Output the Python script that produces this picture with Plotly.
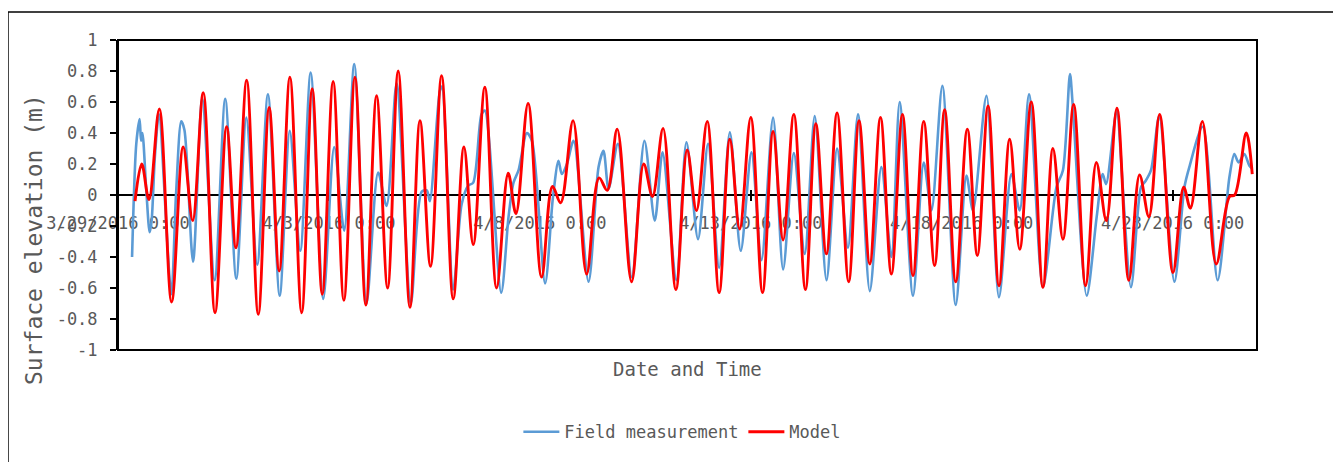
import pandas as pd
import plotly.graph_objects as go

START = pd.Timestamp("2016-03-29 00:00")

# Model (red) turning points: hours after 3/29/2016 0:00 and elevation (m)
model_hours = [9.7, 13.5, 17.6, 23.5, 30.5, 37.1, 42.5, 48.5, 55.2, 61.8, 67.1, 73.2,
               79.8, 86.0, 91.7, 97.8, 104.5, 110.5, 116.2, 122.4, 128.5, 134.8, 141.0,
               147.1, 153.4, 159.4, 166.1, 171.8, 177.8, 184.1, 190.7, 196.8, 202.1,
               208.7, 215.4, 222.0, 226.4, 233.3, 241.0, 247.2, 251.8, 258.9, 266.6,
               273.7, 278.3, 284.0, 292.2, 299.1, 304.1, 310.1, 317.4, 323.8, 329.1,
               335.2, 342.0, 348.1, 353.7, 360.0, 366.7, 372.7, 378.4, 384.5, 391.1,
               397.0, 403.0, 409.1, 415.7, 421.6, 427.7, 433.8, 440.0, 446.3, 452.3,
               458.4, 464.6, 470.3, 476.6, 483.2, 488.9, 495.0, 501.2, 507.3, 513.0,
               519.6, 526.2, 531.9, 537.6, 543.7, 550.5, 556.6, 562.3, 568.3, 575.1,
               581.2, 586.5, 592.6, 600.2, 606.3, 610.1, 616.9, 624.8, 632.4, 635.3,
               641.9, 645.3]
model_elev = [-0.04, 0.20, -0.03, 0.555, -0.69, 0.31, -0.165, 0.66, -0.76, 0.44, -0.34, 0.74,
              -0.77, 0.565, -0.49, 0.76, -0.76, 0.685, -0.64, 0.733, -0.68, 0.76, -0.71,
              0.64, -0.60, 0.80, -0.725, 0.48, -0.46, 0.77, -0.67, 0.31, -0.32,
              0.695, -0.60, 0.14, -0.12, 0.59, -0.53, 0.055, -0.05, 0.48, -0.51,
              0.11, 0.03, 0.425, -0.56, 0.20, -0.01, 0.43, -0.61, 0.29, -0.10,
              0.475, -0.63, 0.36, -0.22, 0.50, -0.63, 0.41, -0.29, 0.52, -0.61,
              0.46, -0.38, 0.53, -0.56, 0.48, -0.445, 0.50, -0.51, 0.52, -0.52,
              0.475, -0.455, 0.55, -0.56, 0.425, -0.39, 0.575, -0.585, 0.36, -0.35,
              0.60, -0.595, 0.30, -0.285, 0.585, -0.585, 0.21, -0.165, 0.56, -0.55,
              0.13, -0.14, 0.52, -0.50, 0.05, -0.085, 0.475, -0.445, -0.01, 0.0,
              0.40, 0.135]

# Field measurement (blue) readings: hours after 3/29/2016 0:00 and elevation (m)
field_hours = [8.0, 10.4, 12.3, 13.1, 13.9, 16.1, 18.0, 19.1, 21.0, 23.3, 30.3, 33.0,
               36.0, 37.8, 42.7, 47.9, 55.0, 61.0, 67.3, 73.0, 79.2, 85.3, 92.0, 97.7,
               103.7, 109.6, 116.8, 123.0, 128.7, 134.4, 141.4, 148.0, 152.8, 158.5,
               166.6, 172.7, 175.7, 177.4, 183.1, 184.3, 190.7, 195.5, 199.2, 202.1,
               206.8, 208.7, 218.0, 222.2, 225.0, 227.9, 232.6, 235.5, 243.0, 247.4,
               250.6, 252.5, 255.4, 259.2, 267.7, 273.4, 276.2, 279.1, 284.4, 292.3,
               299.5, 305.4, 309.8, 317.7, 323.4, 330.0, 335.7, 342.0, 348.1, 354.3,
               360.4, 366.1, 372.7, 378.4, 384.5, 390.7, 396.4, 403.1, 409.1, 415.3,
               421.0, 427.7, 434.3, 440.0, 444.7, 452.3, 458.4, 462.8, 469.0, 476.6,
               482.7, 486.4, 494.1, 501.2, 508.3, 513.0, 518.3, 526.2, 533.9, 537.6,
               541.6, 543.1, 551.1, 556.8, 560.2, 562.1, 566.8, 568.2, 576.3, 582.0,
               584.6, 587.7, 592.4, 601.0, 606.7, 609.5, 617.1, 625.6, 632.3, 635.1,
               637.5, 640.8, 643.6, 645.2]
field_elev = [-0.40, 0.33, 0.49, 0.35, 0.40, 0.03, -0.24, -0.17, 0.25, 0.52, -0.64, 0.0,
              0.475, 0.42, -0.43, 0.62, -0.55, 0.62, -0.54, 0.50, -0.45, 0.65, -0.65, 0.415,
              -0.36, 0.79, -0.67, 0.31, -0.23, 0.845, -0.70, 0.145, -0.07, 0.72,
              -0.70, 0.02, 0.03, -0.04, 0.67, 0.70, -0.61, -0.06, 0.06, 0.08,
              0.52, 0.545, -0.63, -0.14, 0.08, 0.16, 0.40, 0.35, -0.57, -0.02,
              0.22, 0.135, 0.20, 0.35, -0.56, 0.18, 0.285, 0.04, 0.33, -0.53,
              0.35, -0.165, 0.275, -0.55, 0.34, -0.285, 0.33, -0.47, 0.405, -0.36,
              0.275, -0.42, 0.50, -0.48, 0.27, -0.38, 0.51, -0.55, 0.30, -0.34,
              0.52, -0.62, 0.18, -0.40, 0.60, -0.65, 0.21, -0.10, 0.705, -0.71,
              0.125, -0.10, 0.64, -0.66, 0.135, -0.10, 0.65, -0.595, 0.05, 0.16,
              0.78, 0.59, -0.65, -0.14, 0.135, 0.07, 0.46, 0.55, -0.595, 0.05,
              0.09, 0.16, 0.51, -0.56, 0.05, 0.18, 0.44, -0.55, 0.115, 0.265,
              0.21, 0.265, 0.19, 0.17]

x_tick_dates = ["2016-03-29", "2016-04-03", "2016-04-08", "2016-04-13", "2016-04-18", "2016-04-23"]
x_tick_text = ["3/29/2016 0:00", "4/3/2016 0:00", "4/8/2016 0:00", "4/13/2016 0:00",
               "4/18/2016 0:00", "4/23/2016 0:00"]
y_tick_vals = [-1, -0.8, -0.6, -0.4, -0.2, 0, 0.2, 0.4, 0.6, 0.8, 1]
y_tick_text = ["-1", "-0.8", "-0.6", "-0.4", "-0.2", "0", "0.2", "0.4", "0.6", "0.8", "1"]

model_t = START + pd.to_timedelta(model_hours, unit="h")
field_t = START + pd.to_timedelta(field_hours, unit="h")

FONT = "DejaVu Sans Mono"
GREY = "#595959"

fig = go.Figure()
fig.add_trace(go.Scatter(x=field_t, y=field_elev, mode="lines", name="Field measurement",
                         line=dict(color="#5B9BD5", width=2.6, shape="spline", smoothing=0.8)))
fig.add_trace(go.Scatter(x=model_t, y=model_elev, mode="lines", name="Model",
                         line=dict(color="#FF0000", width=2.9, shape="spline", smoothing=1.0)))
# invisible trace to carry the inside half of the x ticks
fig.add_trace(go.Scatter(x=[START], y=[None], xaxis="x2", showlegend=False, hoverinfo="skip"))

x_range = ["2016-03-29 00:00", "2016-04-25 00:00"]

fig.update_layout(
    width=1333, height=454,
    margin=dict(l=110, r=84, t=32, b=112),
    paper_bgcolor="white", plot_bgcolor="white",
    font=dict(family=FONT, color=GREY, size=17),
    showlegend=True,
    legend=dict(orientation="h", x=0.4955, xanchor="center", y=-0.265, yanchor="middle",
                font=dict(family=FONT, size=17, color=GREY), itemwidth=36,
                bgcolor="rgba(0,0,0,0)"),
    xaxis=dict(
        range=x_range, anchor="free", position=0.5,
        tickmode="array", tickvals=x_tick_dates, ticktext=x_tick_text,
        ticks="outside", ticklen=5, tickwidth=1.5, tickcolor="black",
        showline=True, linecolor="black", linewidth=2,
        showgrid=False, zeroline=False, layer="below traces",
        tickfont=dict(family=FONT, size=17, color=GREY), ticklabelstandoff=8,
    ),
    xaxis2=dict(
        range=x_range, overlaying="x", anchor="free", position=0.5,
        tickmode="array", tickvals=x_tick_dates, showticklabels=False,
        ticks="inside", ticklen=5, tickwidth=1.5, tickcolor="black",
        showline=False, showgrid=False, zeroline=False, layer="below traces",
    ),
    yaxis=dict(
        range=[-1, 1], tickmode="array", tickvals=y_tick_vals, ticktext=y_tick_text,
        ticks="outside", ticklen=6, tickwidth=1.5, tickcolor="black",
        showline=True, linecolor="black", linewidth=2,
        showgrid=False, zeroline=False,
        tickfont=dict(family=FONT, size=17, color=GREY), ticklabelstandoff=9,
    ),
    shapes=[
        dict(type="rect", xref="paper", yref="paper", x0=0, x1=1, y0=0, y1=1,
             line=dict(color="black", width=2), layer="above"),
        dict(type="line", xref="paper", yref="paper", x0=-0.0966, x1=-0.0966, y0=1.0903, y1=-0.40,
             line=dict(color="black", width=1.5)),
        dict(type="line", xref="paper", yref="paper", x0=-0.0966, x1=1.10, y0=1.0903, y1=1.0903,
             line=dict(color="black", width=1.5)),
    ],
    annotations=[
        dict(text="Date and Time", xref="paper", yref="paper", x=0.5, y=-0.061,
             xanchor="center", yanchor="middle", showarrow=False,
             font=dict(family=FONT, size=19, color=GREY)),
        dict(text="Surface elevation (m)", xref="paper", yref="paper", x=-0.0737, y=0.355,
             xanchor="center", yanchor="middle", showarrow=False, textangle=-90,
             font=dict(family=FONT, size=23, color=GREY)),
    ],
)

fig.write_html("out.html")
